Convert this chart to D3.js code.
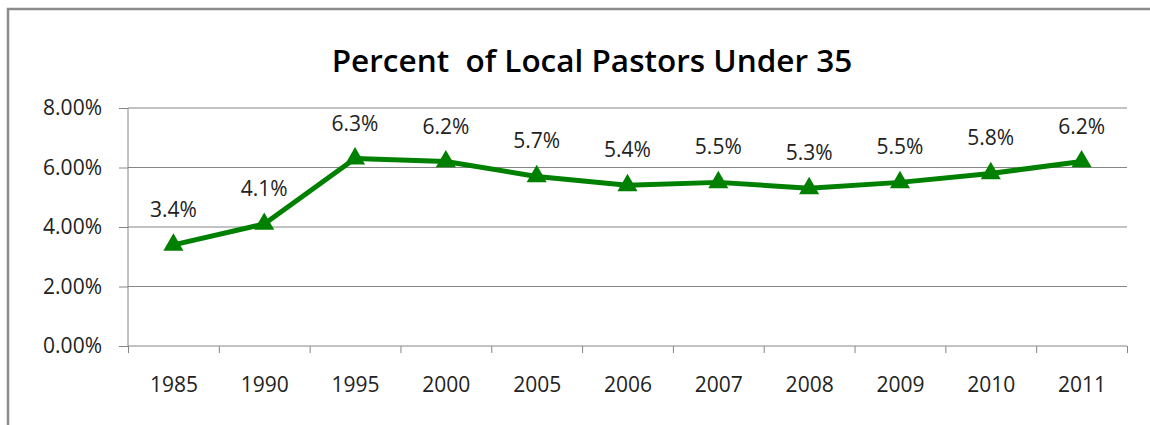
<!DOCTYPE html>
<html>
<head>
<meta charset="utf-8">
<script src="https://cdn.jsdelivr.net/npm/d3@7"></script>
<style>
  body { margin: 0; background: #fff; }
  svg { display: block; }
  .axis path, .axis line { stroke: #868686; }
  .axis text { font-family: "Open Sans", sans-serif; font-size: 21px; fill: #222; }
</style>
</head>
<body>
<svg id="chart"></svg>
<script>
// data
const years = ['1985', '1990', '1995', '2000', '2005', '2006', '2007', '2008', '2009', '2010', '2011'];
const pctUnder35 = [0.034, 0.041, 0.063, 0.062, 0.057, 0.054, 0.055, 0.053, 0.055, 0.058, 0.062];
const yTicks = [0, 0.02, 0.04, 0.06, 0.08];
const title = 'Percent\u00a0 of Local Pastors Under 35';

const W = 1150, H = 425;
const margin = { top: 108, right: 23, bottom: 79, left: 128 };
const width = W - margin.left - margin.right;
const height = H - margin.top - margin.bottom;

const svg = d3.select('#chart').attr('width', W).attr('height', H);

// outer chart frame (cut off at the right and bottom)
svg.append('rect')
  .attr('x', 8).attr('y', 9)
  .attr('width', 1170).attr('height', 440)
  .attr('fill', 'none')
  .attr('stroke', '#8c8c8c')
  .attr('stroke-width', 2.5);

svg.append('text')
  .attr('x', 592).attr('y', 72)
  .attr('text-anchor', 'middle')
  .attr('font-family', '"Open Sans", sans-serif')
  .attr('font-weight', 600)
  .attr('font-size', 31.5)
  .attr('fill', '#000')
  .text(title);

const g = svg.append('g').attr('transform', `translate(${margin.left},${margin.top})`);

const x = d3.scalePoint().domain(years).range([0, width]).padding(0.5);
const xIdx = d3.scaleLinear().domain([0, years.length]).range([0, width]);
const y = d3.scaleLinear().domain([0, 0.08]).range([height, 0]);

// gridlines
g.append('g')
  .selectAll('line')
  .data(yTicks.slice(1))
  .enter().append('line')
  .attr('x1', 0).attr('x2', width)
  .attr('y1', d => y(d)).attr('y2', d => y(d))
  .attr('stroke', '#868686').attr('stroke-width', 1);

// y axis
const yAxis = g.append('g')
  .attr('class', 'axis')
  .call(d3.axisLeft(y).tickValues(yTicks).tickFormat(d3.format('.2%')).tickSize(9).tickPadding(17));
yAxis.select('.domain').attr('d', `M0,${y(0.08)}V${y(0)}`);

// x axis: tick marks between categories
const xAxis = g.append('g')
  .attr('class', 'axis')
  .attr('transform', `translate(0,${height})`)
  .call(d3.axisBottom(xIdx).tickValues(d3.range(years.length + 1)).tickFormat('').tickSize(7).tickSizeOuter(0));
xAxis.select('.domain').attr('d', `M0,0H${width}`);

g.append('g')
  .attr('class', 'axis')
  .attr('transform', `translate(0,${height})`)
  .call(d3.axisBottom(x).tickSize(0).tickPadding(31))
  .call(s => s.select('.domain').remove());

// series
const pts = years.map((yr, i) => ({ yr, v: pctUnder35[i] }));

g.append('path')
  .datum(pts)
  .attr('fill', 'none')
  .attr('stroke', '#008000')
  .attr('stroke-width', 5)
  .attr('stroke-linejoin', 'round')
  .attr('d', d3.line().x(d => x(d.yr)).y(d => y(d.v)));

g.selectAll('.marker')
  .data(pts)
  .enter().append('path')
  .attr('class', 'marker')
  .attr('transform', d => `translate(${x(d.yr)},${y(d.v)})`)
  .attr('d', d3.symbol().type(d3.symbolTriangle).size(175))
  .attr('fill', '#008000');

g.selectAll('.lbl')
  .data(pts)
  .enter().append('text')
  .attr('class', 'lbl')
  .attr('x', d => x(d.yr))
  .attr('y', d => y(d.v) - 28)
  .attr('text-anchor', 'middle')
  .attr('font-family', '"Open Sans", sans-serif')
  .attr('font-size', 21)
  .attr('fill', '#222')
  .text(d => d3.format('.1%')(d.v));
</script>
</body>
</html>
